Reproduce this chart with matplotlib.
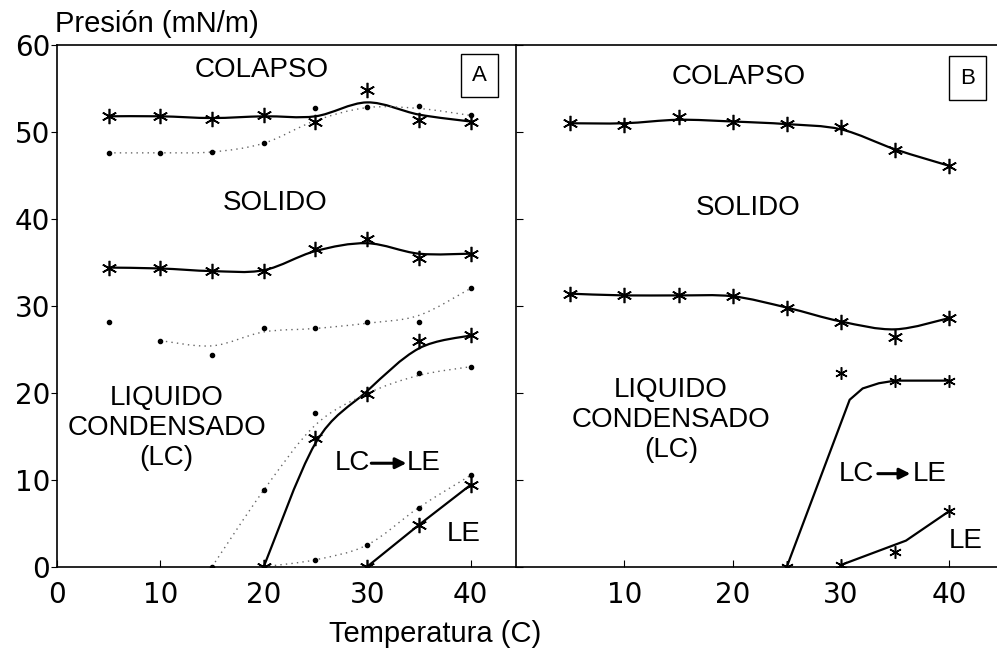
import matplotlib
matplotlib.use("Agg")
import matplotlib.pyplot as plt
from matplotlib.path import Path
from matplotlib.patches import PathPatch

plt.rcParams['font.family'] = ['Liberation Sans', 'DejaVu Sans']

temp = [5, 10, 15, 20, 25, 30, 35, 40]

# panel A - colapso
colA_star = [51.8, 51.8, 51.5, 51.9, 51.1, 54.8, 51.4, 51.1]
colA_fit = [51.8, 51.8, 51.6, 51.8, 51.8, 53.4, 52.0, 51.2]
colA_dot = [47.6, 47.6, 47.7, 48.7, 52.7, 52.9, 53.0, 51.9]
colA_dotfit = [47.6, 47.6, 47.7, 48.7, 51.3, 52.8, 52.7, 51.9]

# panel A - solido
solA_star = [34.4, 34.3, 34.0, 34.0, 36.5, 37.7, 35.5, 36.0]
solA_fit = [34.4, 34.3, 34.0, 34.1, 36.3, 37.2, 36.0, 36.0]
solA_dot = [28.2, 26.0, 24.4, 27.4, 27.4, 28.1, 28.1, 32.0]
solA_dotfit_t = [10, 15, 20, 25, 30, 35, 40]
solA_dotfit = [26.0, 25.4, 27.0, 27.4, 28.0, 28.9, 32.0]

# panel A - LC->LE
lcA_t = [20, 25, 30, 35, 40]
lcA_star = [0, 14.8, 19.9, 26.0, 26.6]
lcA_fit = [0, 14.2, 20.2, 25.1, 26.6]
lcA_dot_t = [15, 20, 25, 30, 35, 40]
lcA_dot = [0, 8.8, 17.7, 19.9, 22.3, 23.0]
lcA_dotfit = [0, 8.8, 16.3, 19.9, 22.0, 23.0]

# panel A - LE
leA_t = [30, 35, 40]
leA_star = [0, 4.8, 9.4]
leA_dot_t = [20, 25, 30, 35, 40]
leA_dot = [0, 0.8, 2.5, 6.8, 10.5]

# panel B
colB_star = [51.0, 50.8, 51.7, 51.2, 50.9, 50.6, 47.9, 46.1]
colB_fit = [51.0, 51.0, 51.4, 51.2, 50.9, 50.3, 48.0, 46.1]
solB_star = [31.4, 31.2, 31.2, 31.1, 29.8, 28.1, 26.4, 28.6]
solB_fit = [31.4, 31.2, 31.2, 31.1, 29.8, 28.2, 27.3, 28.6]
lcB_t = [25, 30, 35, 40]
lcB_star = [0, 22.3, 21.4, 21.4]
lcB_line_t = [25, 30.8, 32, 33.5, 35, 40]
lcB_line = [0, 19.2, 20.5, 21.1, 21.4, 21.4]
leB_t = [30, 35, 40]
leB_star = [0.2, 1.7, 6.4]
leB_line_t = [30, 36, 40]
leB_line = [0.2, 3.0, 6.4]

xticksA = [0, 10, 20, 30, 40]
xticksB = [10, 20, 30, 40]
yticks = [0, 10, 20, 30, 40, 50, 60]

star = (6, 2, 0)
dotted = (0, (1, 3))


def smooth(ax, xs, ys, **kw):
    # catmull-rom through the knots, drawn as bezier path
    pts = list(zip(xs, ys))
    verts = [pts[0]]
    codes = [Path.MOVETO]
    n = len(pts)
    for i in range(n - 1):
        p0 = pts[i - 1] if i > 0 else pts[i]
        p1 = pts[i]
        p2 = pts[i + 1]
        p3 = pts[i + 2] if i + 2 < n else pts[i + 1]
        c1 = (p1[0] + (p2[0] - p0[0]) / 6, p1[1] + (p2[1] - p0[1]) / 6)
        c2 = (p2[0] - (p3[0] - p1[0]) / 6, p2[1] - (p3[1] - p1[1]) / 6)
        verts += [c1, c2, p2]
        codes += [Path.CURVE4] * 3
    ax.add_patch(PathPatch(Path(verts, codes), fill=False, **kw))


solid_kw = dict(edgecolor='black', lw=1.6)
dot_kw = dict(edgecolor='#666666', lw=1.0, linestyle=dotted)

fig = plt.figure(figsize=(9.97, 6.5), dpi=100)
axA = fig.add_axes([57 / 997, 83.3 / 650, (516 - 57) / 997, (566.7 - 45) / 650])
axB = fig.add_axes([516 / 997, 83.3 / 650, (997 - 516) / 997, (566.7 - 45) / 650])

# ---- panel A
smooth(axA, temp, colA_fit, **solid_kw)
axA.plot(temp, colA_star, ls='none', marker=star, ms=11, mew=1.2, color='black')
smooth(axA, temp, colA_dotfit, **dot_kw)
axA.plot(temp, colA_dot, ls='none', marker='o', ms=3, color='black')

smooth(axA, temp, solA_fit, **solid_kw)
axA.plot(temp, solA_star, ls='none', marker=star, ms=11, mew=1.2, color='black')
smooth(axA, solA_dotfit_t, solA_dotfit, **dot_kw)
axA.plot(temp, solA_dot, ls='none', marker='o', ms=3, color='black')

smooth(axA, lcA_t, lcA_fit, **solid_kw)
axA.plot(lcA_t, lcA_star, ls='none', marker=star, ms=11, mew=1.2, color='black')
smooth(axA, lcA_dot_t, lcA_dotfit, **dot_kw)
axA.plot(lcA_dot_t, lcA_dot, ls='none', marker='o', ms=3, color='black')

axA.plot(leA_t, leA_star, color='black', lw=1.6, marker=star, ms=11, mew=1.2)
smooth(axA, leA_dot_t, leA_dot, **dot_kw)
axA.plot(leA_dot_t, leA_dot, ls='none', marker='o', ms=3, color='black')

# ---- panel B
smooth(axB, temp, colB_fit, **solid_kw)
axB.plot(temp, colB_star, ls='none', marker=star, ms=11, mew=1.2, color='black')
smooth(axB, temp, solB_fit, **solid_kw)
axB.plot(temp, solB_star, ls='none', marker=star, ms=11, mew=1.2, color='black')
axB.plot(lcB_line_t, lcB_line, color='black', lw=1.6)
axB.plot(lcB_t, lcB_star, ls='none', marker=star, ms=9, mew=1.1, color='black')
axB.plot(leB_line_t, leB_line, color='black', lw=1.6)
axB.plot(leB_t, leB_star, ls='none', marker=star, ms=9, mew=1.1, color='black')

# labels inside panels
fs = 20
for ax, c, s, lq, box in [(axA, (19.8, 57.1), (21.1, 41.8), (10.6, 15.9), ('A', 40.9, 56.5)),
                          (axB, (20.6, 56.3), (21.4, 41.2), (14.3, 16.9), ('B', 41.7, 56.2))]:
    ax.text(*c, 'COLAPSO', fontsize=fs, ha='center', va='center')
    ax.text(*s, 'SOLIDO', fontsize=fs, ha='center', va='center')
    ax.text(*lq, 'LIQUIDO\nCONDENSADO\n(LC)', fontsize=fs, ha='center', va='center',
            linespacing=1.2)
    ax.text(box[1], box[2], box[0], fontsize=16, ha='center', va='center',
            bbox=dict(boxstyle='square,pad=0.5', fc='white', ec='black', lw=1.0))

for ax, lc_x, a0, a1, le_x, y, le_pos in [(axA, 28.6, 30.4, 33.8, 35.5, 11.9, (39.3, 3.8)),
                                          (axB, 31.4, 33.4, 36.4, 38.2, 10.7, (41.5, 2.9))]:
    ax.text(lc_x, y, 'LC', fontsize=fs, ha='center', va='center')
    ax.text(le_x, y, 'LE', fontsize=fs, ha='center', va='center')
    ax.annotate('', xy=(a1, y), xytext=(a0, y),
                arrowprops=dict(arrowstyle='-|>', lw=2.2, color='black',
                                mutation_scale=16, shrinkA=0, shrinkB=0))
    ax.text(*le_pos, 'LE', fontsize=fs, ha='center', va='center')

for ax in (axA, axB):
    ax.set_xlim(0, 44.4)
    ax.set_ylim(0, 60)
    ax.set_yticks(yticks)
    for sp in ax.spines.values():
        sp.set_linewidth(1.2)

axA.set_xticks(xticksA)
axA.tick_params(axis='x', direction='in', length=5, pad=10, labelsize=20)
axA.tick_params(axis='y', direction='out', length=4, pad=1, labelsize=20)
axA.spines['right'].set_visible(False)

axB.set_xticks(xticksB)
axB.tick_params(axis='x', direction='in', length=5, pad=10, labelsize=20)
axB.tick_params(axis='y', direction='in', length=5, labelleft=False)
axB.spines['right'].set_visible(False)

for ax in (axA, axB):
    for lab in ax.get_xticklabels() + ax.get_yticklabels():
        lab.set_fontfamily('DejaVu Sans')

fig.text(55 / 997, 1 - 32 / 650, 'Presión (mN/m)', fontsize=21, ha='left', va='baseline')
fig.text(435 / 997, 1 - 634 / 650, 'Temperatura (C)', fontsize=21, ha='center', va='center')

fig.savefig('out.png', dpi=100)
